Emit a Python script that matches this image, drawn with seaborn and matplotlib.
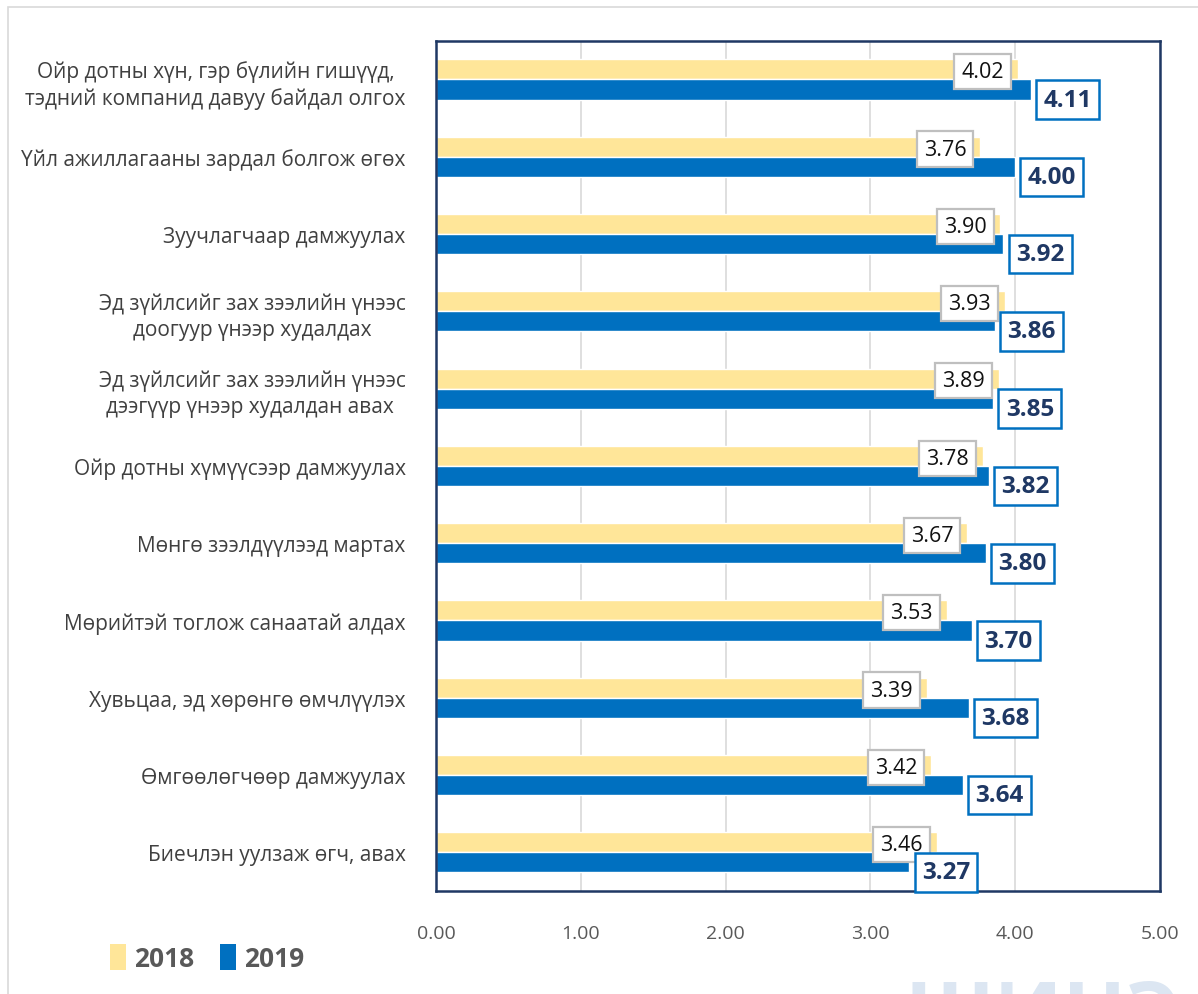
import matplotlib
matplotlib.use("Agg")
import matplotlib.pyplot as plt
from matplotlib.patches import Patch, Rectangle
import pandas as pd
import seaborn as sns

categories = [
    "Ойр дотны хүн, гэр бүлийн гишүүд,\nтэдний компанид давуу байдал олгох",
    "Үйл ажиллагааны зардал болгож өгөх",
    "Зуучлагчаар дамжуулах",
    "Эд зүйлсийг зах зээлийн үнээс\nдоогуур үнээр худалдах",
    "Эд зүйлсийг зах зээлийн үнээс\nдээгүүр үнээр худалдан авах ",
    "Ойр дотны хүмүүсээр дамжуулах",
    "Мөнгө зээлдүүлээд мартах",
    "Мөрийтэй тоглож санаатай алдах",
    "Хувьцаа, эд хөрөнгө өмчлүүлэх",
    "Өмгөөлөгчөөр дамжуулах",
    "Биечлэн уулзаж өгч, авах",
]
vals_2018 = [4.02, 3.76, 3.90, 3.93, 3.89, 3.78, 3.67, 3.53, 3.39, 3.42, 3.46]
vals_2019 = [4.11, 4.00, 3.92, 3.86, 3.85, 3.82, 3.80, 3.70, 3.68, 3.64, 3.27]
years = ["2018", "2019"]
xticks = [0, 1, 2, 3, 4, 5]

df = pd.DataFrame({
    "cat": categories * 2,
    "year": [years[0]] * len(categories) + [years[1]] * len(categories),
    "value": vals_2018 + vals_2019,
})

sns.set_style("white")
plt.rcParams["font.family"] = ["Open Sans", "DejaVu Sans"]

fig = plt.figure(figsize=(11.98, 9.95), dpi=100)
ax = fig.add_axes([0.364, 0.1035, 0.604, 0.8545])

pal = {"2018": "#FFE699", "2019": "#0070C0"}
sns.barplot(data=df, y="cat", x="value", hue="year", hue_order=years,
            order=categories, palette=pal, orient="h", width=0.52,
            saturation=1, ax=ax, legend=False)

ax.set_xlim(0, 5)
ax.set_xticks(xticks)
ax.set_xticklabels([f"{t:.2f}" for t in xticks])
ax.set_xlabel("")
ax.set_ylabel("")
ax.xaxis.grid(True, color="#d9d9d9", lw=1.2)
ax.set_axisbelow(True)
ax.tick_params(axis="x", length=0, pad=24, labelsize=14, labelcolor="#595959")
ax.tick_params(axis="y", length=0, pad=22, labelsize=15, labelcolor="#404040")
for lab in ax.get_yticklabels():
    lab.set_multialignment("center")
    lab.set_linespacing(1.3)
for s in ax.spines.values():
    s.set_visible(True)
    s.set_color("#1F3864")
    s.set_linewidth(1.8)

# data labels
for i, (a, b) in enumerate(zip(vals_2018, vals_2019)):
    ax.annotate(f"{a:.2f}", xy=(a, i - 0.1), xytext=(-10, 0),
                textcoords="offset points", ha="right", va="center",
                fontsize=15.5, color="#111111",
                bbox=dict(boxstyle="square,pad=0.33", fc="white",
                          ec="#bfbfbf", lw=1.6))
    ax.annotate(f"{b:.2f}", xy=(b, i + 0.26), xytext=(9, 0),
                textcoords="offset points", ha="left", va="center",
                fontsize=17.5, fontweight="bold", color="#1F3864",
                bbox=dict(boxstyle="square,pad=0.3", fc="white",
                          ec="#0070C0", lw=1.8))

# outer frame
fig.patches.append(Rectangle((0.007, -0.05), 1.1, 1.042, transform=fig.transFigure,
                             fill=False, ec="#d9d9d9", lw=1.2, zorder=0))

# faint watermark at the bottom right (mostly cut off, as in the source)
fig.text(0.755, -0.066, "ШИНЭ", fontsize=60, fontweight="bold", color="#dce6f2",
         ha="left", va="bottom", zorder=0)

handles = [Patch(fc=pal[y], ec="none") for y in years]
leg = fig.legend(handles, years, loc="center left", bbox_to_anchor=(0.072, 0.036),
                 ncol=2, frameon=False, handlelength=0.6, handleheight=1.15,
                 handletextpad=0.3, columnspacing=1.0,
                 prop={"size": 19, "weight": "bold"})
for t in leg.get_texts():
    t.set_color("#595959")

fig.savefig("out.png", dpi=100)
